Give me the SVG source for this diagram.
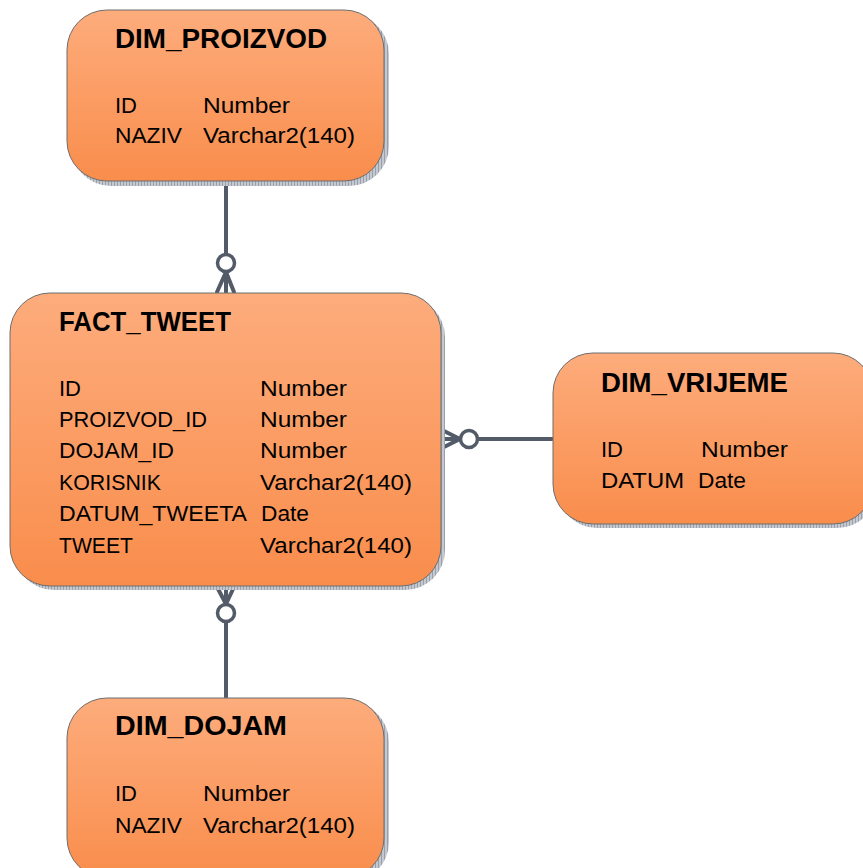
<svg xmlns="http://www.w3.org/2000/svg" width="863" height="868" viewBox="0 0 863 868">
<defs>
<linearGradient id="g" x1="0" y1="0" x2="0" y2="1">
<stop offset="0" stop-color="#FDAC7C"/>
<stop offset="1" stop-color="#F98D4C"/>
</linearGradient>
<pattern id="hatch" width="3" height="3" patternUnits="userSpaceOnUse">
<rect width="3" height="3" fill="#c4c8d0"/>
<rect width="1" height="3" fill="#9aa0aa"/>
</pattern>
</defs>
<style>
.box{fill:url(#g);stroke:#6d6d6d;stroke-width:1}
.sh{fill:url(#hatch)}
.t{font-family:"Liberation Sans",Arial,sans-serif;font-weight:bold;font-size:27px;fill:#000}
.f{font-family:"Liberation Sans",Arial,sans-serif;font-size:22px;fill:#000}
.c{stroke:#535b68;stroke-width:4;fill:none;stroke-linecap:round}
.o{stroke:#535b68;stroke-width:3.5;fill:#fff}
</style>
<rect width="863" height="868" fill="#fff"/>
<g id="connectors">
<line class="c" x1="226" y1="182" x2="226" y2="254"/>
<circle class="o" cx="226" cy="263" r="8.5"/>
<path class="c" d="M226 272 L217 292 M226 272 L226 292 M226 272 L234 292"/>
<line class="c" x1="552" y1="439" x2="478" y2="439"/>
<circle class="o" cx="469" cy="439" r="8.5"/>
<path class="c" d="M460 439 L442 430 M460 439 L442 439 M460 439 L442 448"/>
<line class="c" x1="226" y1="697" x2="226" y2="622"/>
<circle class="o" cx="226" cy="613" r="8.5"/>
<path class="c" d="M226 604 L217 587 M226 604 L226 587 M226 604 L234 587"/>
</g>
<g id="dim_proizvod">
<rect class="sh" x="71" y="14" width="318" height="172" rx="40"/>
<rect class="box" x="67" y="10" width="317" height="171" rx="40"/>
<text class="t" x="115" y="48" textLength="212" lengthAdjust="spacingAndGlyphs">DIM_PROIZVOD</text>
<text class="f" x="115" y="113">ID</text>
<text class="f" x="203" y="113" textLength="87" lengthAdjust="spacingAndGlyphs">Number</text>
<text class="f" x="115" y="143" textLength="67" lengthAdjust="spacingAndGlyphs">NAZIV</text>
<text class="f" x="203" y="143" textLength="152" lengthAdjust="spacingAndGlyphs">Varchar2(140)</text>
</g>
<g id="fact_tweet">
<rect class="sh" x="14" y="297" width="431" height="293" rx="40"/>
<rect class="box" x="10" y="293" width="431" height="293" rx="40"/>
<text class="t" x="59" y="331" textLength="172" lengthAdjust="spacingAndGlyphs">FACT_TWEET</text>
<text class="f" x="59" y="396">ID</text>
<text class="f" x="260" y="396" textLength="87" lengthAdjust="spacingAndGlyphs">Number</text>
<text class="f" x="59" y="427" textLength="148" lengthAdjust="spacingAndGlyphs">PROIZVOD_ID</text>
<text class="f" x="260" y="427" textLength="87" lengthAdjust="spacingAndGlyphs">Number</text>
<text class="f" x="59" y="458" textLength="115" lengthAdjust="spacingAndGlyphs">DOJAM_ID</text>
<text class="f" x="260" y="458" textLength="87" lengthAdjust="spacingAndGlyphs">Number</text>
<text class="f" x="59" y="490" textLength="102" lengthAdjust="spacingAndGlyphs">KORISNIK</text>
<text class="f" x="260" y="490" textLength="152" lengthAdjust="spacingAndGlyphs">Varchar2(140)</text>
<text class="f" x="59" y="521" textLength="188" lengthAdjust="spacingAndGlyphs">DATUM_TWEETA</text>
<text class="f" x="261" y="521" textLength="48" lengthAdjust="spacingAndGlyphs">Date</text>
<text class="f" x="59" y="553" textLength="74" lengthAdjust="spacingAndGlyphs">TWEET</text>
<text class="f" x="260" y="553" textLength="152" lengthAdjust="spacingAndGlyphs">Varchar2(140)</text>
</g>
<g id="dim_vrijeme">
<rect class="sh" x="557" y="357" width="320" height="171" rx="40"/>
<rect class="box" x="553" y="353" width="320" height="171" rx="40"/>
<text class="t" x="601" y="392" textLength="187" lengthAdjust="spacingAndGlyphs">DIM_VRIJEME</text>
<text class="f" x="601" y="457">ID</text>
<text class="f" x="701" y="457" textLength="87" lengthAdjust="spacingAndGlyphs">Number</text>
<text class="f" x="601" y="488" textLength="83" lengthAdjust="spacingAndGlyphs">DATUM</text>
<text class="f" x="698" y="488" textLength="48" lengthAdjust="spacingAndGlyphs">Date</text>
</g>
<g id="dim_dojam">
<rect class="sh" x="71" y="702" width="318" height="180" rx="40"/>
<rect class="box" x="67" y="698" width="317" height="180" rx="40"/>
<text class="t" x="115" y="735" textLength="172" lengthAdjust="spacingAndGlyphs">DIM_DOJAM</text>
<text class="f" x="115" y="801">ID</text>
<text class="f" x="203" y="801" textLength="87" lengthAdjust="spacingAndGlyphs">Number</text>
<text class="f" x="115" y="833" textLength="67" lengthAdjust="spacingAndGlyphs">NAZIV</text>
<text class="f" x="203" y="833" textLength="152" lengthAdjust="spacingAndGlyphs">Varchar2(140)</text>
</g>
</svg>
